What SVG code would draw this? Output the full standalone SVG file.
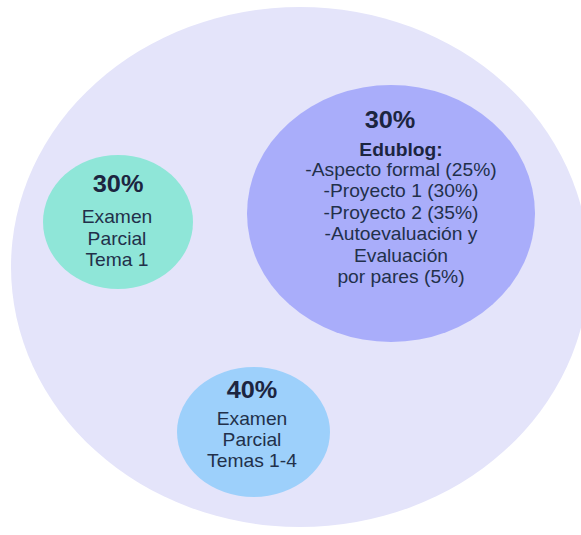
<svg xmlns="http://www.w3.org/2000/svg" width="581" height="535" viewBox="0 0 581 535">
  <style>
    text { font-family: "Liberation Sans", Arial, sans-serif; fill: #22304a; text-anchor: middle; }
    .pct { font-size: 23px; font-weight: bold; fill: #1c2540; }
    .lbl { font-size: 17.5px; }
    .hd { font-size: 17.5px; font-weight: bold; fill: #1c2540; }
  </style>
  <rect width="581" height="535" fill="#ffffff"/>
  <g id="outer">
    <ellipse cx="300" cy="267" rx="289" ry="260" fill="#e4e4fa"/>
  </g>
  <g id="connectors"/>
  <g id="node-parcial-1">
    <ellipse cx="118" cy="222" rx="75" ry="67" fill="#8fe6d8"/>
    <g transform="translate(117 0) scale(1.1 1)">
      <text class="pct" x="1" y="192">30%</text>
      <text class="lbl" x="0" y="223">Examen</text>
      <text class="lbl" x="0" y="245">Parcial</text>
      <text class="lbl" x="0" y="266">Tema 1</text>
    </g>
  </g>
  <g id="node-edublog">
    <ellipse cx="391" cy="213.5" rx="144" ry="128.5" fill="#a9adfa"/>
    <g transform="translate(390 0) scale(1.1 1)">
      <text class="pct" x="0" y="128">30%</text>
    </g>
    <g transform="translate(401 0) scale(1.1 1)">
      <text class="hd" x="0" y="156">Edublog:</text>
      <text class="lbl" x="0" y="176">-Aspecto formal (25%)</text>
      <text class="lbl" x="0" y="197.5">-Proyecto 1 (30%)</text>
      <text class="lbl" x="0" y="219">-Proyecto 2 (35%)</text>
      <text class="lbl" x="0" y="240.5">-Autoevaluación y</text>
      <text class="lbl" x="0" y="262">Evaluación</text>
      <text class="lbl" x="0" y="283.5">por pares (5%)</text>
    </g>
  </g>
  <g id="node-parcial-1-4">
    <ellipse cx="253.5" cy="432" rx="76.5" ry="65" fill="#9dd0fb"/>
    <g transform="translate(252 0) scale(1.1 1)">
      <text class="pct" x="0" y="398">40%</text>
      <text class="lbl" x="0" y="425">Examen</text>
      <text class="lbl" x="0" y="446">Parcial</text>
      <text class="lbl" x="0" y="467">Temas 1-4</text>
    </g>
  </g>
</svg>
